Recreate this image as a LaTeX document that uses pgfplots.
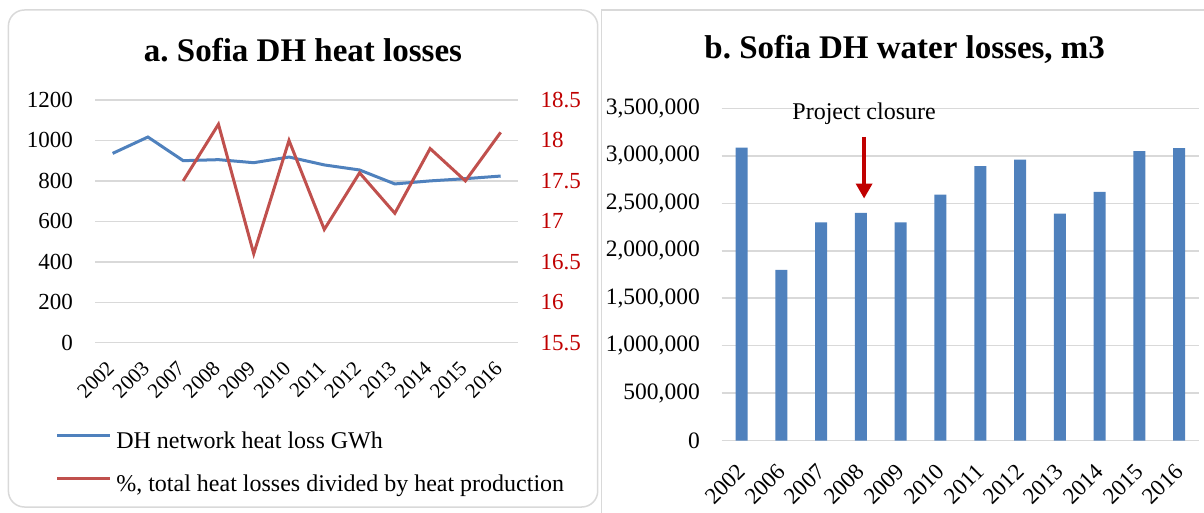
\documentclass[border=0pt]{standalone}
\usepackage{pgfplots}
\pgfplotsset{compat=1.18}
\usepackage{fontspec}
\setmainfont{Liberation Serif}
\usetikzlibrary{arrows.meta}
\definecolor{gridc}{HTML}{D9D9D9}
\definecolor{blueS}{HTML}{4F81BD}
\definecolor{redS}{HTML}{C0504D}
\definecolor{darkred}{HTML}{C00000}
\frenchspacing
\begin{document}
\begin{tikzpicture}[x=1pt,y=1pt]
\useasboundingbox (0,0) rectangle (1204,512);
% panel frames
\draw[gridc, line width=1.5pt, rounded corners=16pt] (8.4,5) rectangle (597.7,502);
\draw[gridc, line width=1.5pt] (601.7,-5) -- (601.7,502) -- (1210,502);
% titles
\node[font=\bfseries\fontsize{33}{33}\selectfont, anchor=base, inner sep=0pt] at (303,450.3) {a. Sofia DH heat losses};
\node[font=\bfseries\fontsize{33}{33}\selectfont, anchor=base, inner sep=0pt] at (904.7,453.7) {b. Sofia DH water losses, m3};

% ---------- left chart, primary axis
\begin{axis}[
  at={(95pt,169.3pt)}, anchor=south west, scale only axis,
  width=423.3pt, height=242.7pt,
  xmin=-0.5, xmax=11.5, ymin=0, ymax=1200,
  ytick={0,200,...,1200},
  yticklabel={\pgfmathprintnumber[fixed,precision=0,1000 sep={}]{\tick}},
  xtick={0,...,11},
  xticklabels={2002,2003,2007,2008,2009,2010,2011,2012,2013,2014,2015,2016},
  axis line style={draw=none},
  major tick length=0pt,
  ymajorgrids, grid style={gridc, line width=1.5pt},
  /pgf/number format/assume math mode=true,
  yticklabel style={font=\fontsize{23}{23}\selectfont, anchor=east, inner sep=0pt, xshift=-22pt},
  xticklabel style={font=\fontsize{21}{21}\selectfont, xshift=-2pt, yshift=-22pt, rotate=45, anchor=east, inner sep=0pt},
  legend style={at={(axis description cs:-0.0933,-0.365)}, anchor=north west, draw=none, fill=none,
    font=\fontsize{24}{24}\selectfont, inner sep=0pt, row sep=20pt, column sep=4.6pt,
    nodes={inner sep=0pt, text height=17pt, text depth=6pt}},
  legend cell align=left,
  legend image code/.code={\draw[#1] (0pt,7.9pt) -- (53pt,7.9pt);},
]
\addplot[blueS, line width=3pt] coordinates {
(0,936) (1,1017) (2,900) (3,905) (4,890) (5,918) (6,879) (7,854) (8,785) (9,800) (10,811) (11,824)};
\addlegendentry{DH network heat loss GWh}
\addlegendimage{redS, line width=3pt}
\addlegendentry{\%, total heat losses divided by heat production}
\end{axis}

% ---------- left chart, secondary axis
\begin{axis}[
  at={(95pt,169.3pt)}, anchor=south west, scale only axis,
  width=423.3pt, height=242.7pt,
  xmin=-0.5, xmax=11.5, ymin=15.5, ymax=18.5,
  ytick={15.5,16,...,18.5},
  axis y line*=right, axis x line=none,
  axis line style={draw=none},
  major tick length=0pt,
  /pgf/number format/assume math mode=true,
  yticklabel style={font=\fontsize{23}{23}\selectfont, color=darkred, anchor=west, inner sep=0pt, xshift=22pt},
]
\addplot[redS, line width=3pt] coordinates {
(2,17.5) (3,18.2) (4,16.6) (5,18.0) (6,16.9) (7,17.6) (8,17.1) (9,17.9) (10,17.5) (11,18.1)};
\end{axis}

% ---------- right chart
\begin{axis}[
  at={(721.7pt,71.3pt)}, anchor=south west, scale only axis,
  width=477.3pt, height=332.4pt,
  xmin=-0.5, xmax=11.5, ymin=0, ymax=3500000,
  enlargelimits=false,
  ytick={0,500000,...,3500000},
  scaled y ticks=false,
  yticklabel={\pgfmathprintnumber[fixed,precision=0,1000 sep={,}]{\tick}},
  xtick={0,...,11},
  xticklabels={2002,2006,2007,2008,2009,2010,2011,2012,2013,2014,2015,2016},
  axis line style={draw=none},
  major tick length=0pt,
  ymajorgrids, grid style={gridc, line width=1.5pt},
  /pgf/number format/assume math mode=true,
  yticklabel style={font=\fontsize{23.5}{23.5}\selectfont, anchor=east, inner sep=0pt, xshift=-21.7pt},
  xticklabel style={font=\fontsize{23}{23}\selectfont, xshift=0pt, yshift=-27pt, rotate=45, anchor=east, inner sep=0pt},
  clip=false,
]
\addplot[ybar, bar width=12pt, fill=blueS, draw=none] coordinates {
(0,3085000) (1,1800000) (2,2300000) (3,2400000) (4,2300000) (5,2590000) (6,2890000) (7,2960000) (8,2390000) (9,2620000) (10,3050000) (11,3080000)};
\draw[darkred, line width=3.5pt, -{Triangle[width=16pt,length=15pt]}] (axis cs:3.08,3200000) -- (axis cs:3.08,2550000);
\node[font=\fontsize{24}{24}\selectfont, anchor=base, inner sep=0pt] at (axis cs:3.08,3377000) {Project closure};
\end{axis}
\end{tikzpicture}
\end{document}
